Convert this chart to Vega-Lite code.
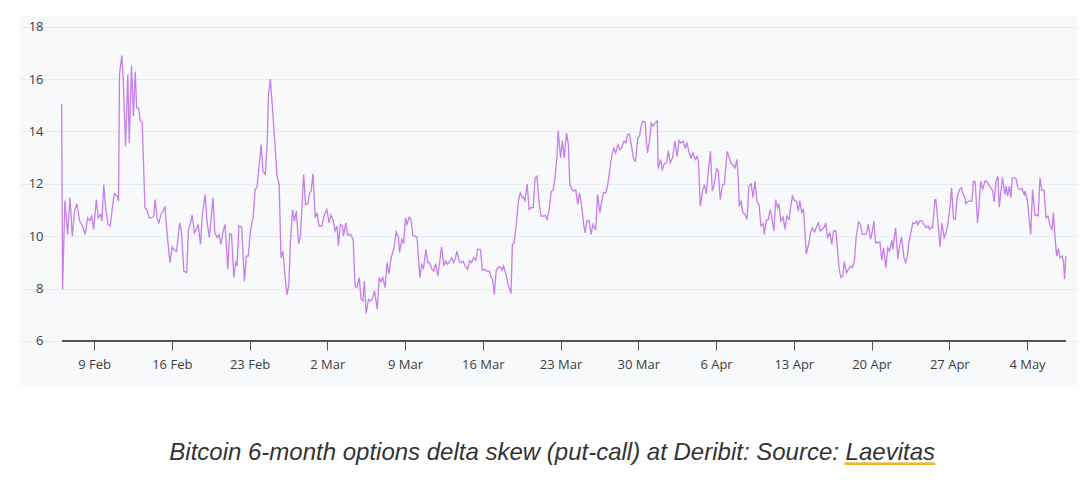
{
  "$schema": "https://vega.github.io/schema/vega-lite/v6.json",
  "autosize": {"type": "none"},
  "padding": {"left": 20, "top": 16, "right": 14, "bottom": 97},
  "width": 1057,
  "height": 370,
  "background": "#ffffff",
  "config": {
    "view": {"fill": "#f8f9fb", "stroke": null},
    "axis": {"labelFont": "Open Sans", "labelFontSize": 13, "labelColor": "#3d3d3d"}
  },
  "title": {
    "text": "Bitcoin 6-month options delta skew (put-call) at Deribit: Source: Laevitas",
    "subtitle": "━━━━━━━━━━",
    "orient": "bottom",
    "anchor": "end",
    "frame": "group",
    "dx": -142,
    "offset": 55,
    "font": "Liberation Sans",
    "fontStyle": "italic",
    "fontWeight": "normal",
    "fontSize": 24,
    "color": "#333333",
    "subtitleFont": "DejaVu Sans Mono",
    "subtitleFontSize": 15,
    "subtitleColor": "#f0b429",
    "subtitlePadding": -8
  },
  "data": {
    "values": [
      {"t": "2025-02-06T02:00Z", "v": 15.05}, {"t": "2025-02-06T04:00Z", "v": 7.97}, {"t": "2025-02-06T09:00Z", "v": 11.36},
      {"t": "2025-02-06T15:00Z", "v": 10.07}, {"t": "2025-02-06T20:00Z", "v": 11.49}, {"t": "2025-02-07T01:00Z", "v": 10.0},
      {"t": "2025-02-07T06:00Z", "v": 10.96}, {"t": "2025-02-07T11:00Z", "v": 11.24}, {"t": "2025-02-07T17:00Z", "v": 10.58},
      {"t": "2025-02-07T23:00Z", "v": 10.39}, {"t": "2025-02-08T05:00Z", "v": 10.07}, {"t": "2025-02-08T10:00Z", "v": 10.7},
      {"t": "2025-02-08T15:00Z", "v": 10.6}, {"t": "2025-02-08T19:00Z", "v": 10.77}, {"t": "2025-02-08T23:00Z", "v": 10.26},
      {"t": "2025-02-09T05:00Z", "v": 11.4}, {"t": "2025-02-09T09:00Z", "v": 10.7}, {"t": "2025-02-09T14:00Z", "v": 10.83},
      {"t": "2025-02-09T17:00Z", "v": 10.58}, {"t": "2025-02-09T21:00Z", "v": 11.97}, {"t": "2025-02-10T01:00Z", "v": 11.09},
      {"t": "2025-02-10T06:00Z", "v": 10.45}, {"t": "2025-02-10T11:00Z", "v": 10.39}, {"t": "2025-02-10T16:00Z", "v": 11.15},
      {"t": "2025-02-10T20:00Z", "v": 11.63}, {"t": "2025-02-11T02:00Z", "v": 11.53}, {"t": "2025-02-11T05:00Z", "v": 11.34},
      {"t": "2025-02-11T07:00Z", "v": 16.17}, {"t": "2025-02-11T12:00Z", "v": 16.9}, {"t": "2025-02-11T15:00Z", "v": 16.04},
      {"t": "2025-02-11T20:00Z", "v": 13.43}, {"t": "2025-02-12T01:00Z", "v": 16.17}, {"t": "2025-02-12T04:00Z", "v": 13.56},
      {"t": "2025-02-12T09:00Z", "v": 16.52}, {"t": "2025-02-12T13:00Z", "v": 14.58}, {"t": "2025-02-12T17:00Z", "v": 16.29},
      {"t": "2025-02-12T20:00Z", "v": 14.9}, {"t": "2025-02-13T00:00Z", "v": 14.9}, {"t": "2025-02-13T04:00Z", "v": 14.41},
      {"t": "2025-02-13T08:00Z", "v": 14.36}, {"t": "2025-02-13T14:00Z", "v": 11.09}, {"t": "2025-02-13T19:00Z", "v": 10.98},
      {"t": "2025-02-13T23:00Z", "v": 10.7}, {"t": "2025-02-14T05:00Z", "v": 10.7}, {"t": "2025-02-14T09:00Z", "v": 10.77},
      {"t": "2025-02-14T12:00Z", "v": 11.4}, {"t": "2025-02-14T16:00Z", "v": 10.7}, {"t": "2025-02-14T20:00Z", "v": 10.51},
      {"t": "2025-02-15T01:00Z", "v": 10.86}, {"t": "2025-02-15T05:00Z", "v": 10.96}, {"t": "2025-02-15T09:00Z", "v": 11.11},
      {"t": "2025-02-15T14:00Z", "v": 10.07}, {"t": "2025-02-15T20:00Z", "v": 8.99}, {"t": "2025-02-16T01:00Z", "v": 9.59},
      {"t": "2025-02-16T06:00Z", "v": 9.46}, {"t": "2025-02-16T10:00Z", "v": 9.41}, {"t": "2025-02-16T13:00Z", "v": 9.82},
      {"t": "2025-02-16T17:00Z", "v": 10.51}, {"t": "2025-02-16T21:00Z", "v": 10.2}, {"t": "2025-02-17T02:00Z", "v": 8.67},
      {"t": "2025-02-17T08:00Z", "v": 8.61}, {"t": "2025-02-17T12:00Z", "v": 10.26}, {"t": "2025-02-17T16:00Z", "v": 10.45},
      {"t": "2025-02-17T20:00Z", "v": 10.81}, {"t": "2025-02-18T01:00Z", "v": 10.13}, {"t": "2025-02-18T05:00Z", "v": 10.26},
      {"t": "2025-02-18T09:00Z", "v": 10.45}, {"t": "2025-02-18T14:00Z", "v": 9.69}, {"t": "2025-02-18T18:00Z", "v": 10.83},
      {"t": "2025-02-19T00:00Z", "v": 11.59}, {"t": "2025-02-19T04:00Z", "v": 10.58}, {"t": "2025-02-19T09:00Z", "v": 9.95},
      {"t": "2025-02-19T13:00Z", "v": 10.7}, {"t": "2025-02-19T17:00Z", "v": 11.47}, {"t": "2025-02-19T21:00Z", "v": 10.13},
      {"t": "2025-02-20T02:00Z", "v": 9.95}, {"t": "2025-02-20T06:00Z", "v": 10.07}, {"t": "2025-02-20T10:00Z", "v": 9.69},
      {"t": "2025-02-20T15:00Z", "v": 10.2}, {"t": "2025-02-20T19:00Z", "v": 10.45}, {"t": "2025-02-21T01:00Z", "v": 8.74},
      {"t": "2025-02-21T05:00Z", "v": 10.1}, {"t": "2025-02-21T09:00Z", "v": 10.07}, {"t": "2025-02-21T14:00Z", "v": 8.42},
      {"t": "2025-02-21T18:00Z", "v": 8.99}, {"t": "2025-02-21T21:00Z", "v": 8.86}, {"t": "2025-02-22T01:00Z", "v": 10.39},
      {"t": "2025-02-22T07:00Z", "v": 10.35}, {"t": "2025-02-22T13:00Z", "v": 8.27}, {"t": "2025-02-22T17:00Z", "v": 9.24},
      {"t": "2025-02-22T21:00Z", "v": 9.24}, {"t": "2025-02-23T02:00Z", "v": 10.2}, {"t": "2025-02-23T08:00Z", "v": 10.77},
      {"t": "2025-02-23T12:00Z", "v": 11.78}, {"t": "2025-02-23T16:00Z", "v": 11.85}, {"t": "2025-02-23T21:00Z", "v": 12.74},
      {"t": "2025-02-24T01:00Z", "v": 13.5}, {"t": "2025-02-24T05:00Z", "v": 12.48}, {"t": "2025-02-24T10:00Z", "v": 12.36},
      {"t": "2025-02-24T14:00Z", "v": 13.5}, {"t": "2025-02-24T17:00Z", "v": 15.4}, {"t": "2025-02-24T21:00Z", "v": 16.0},
      {"t": "2025-02-25T01:00Z", "v": 15.02}, {"t": "2025-02-25T07:00Z", "v": 13.5}, {"t": "2025-02-25T11:00Z", "v": 12.36},
      {"t": "2025-02-25T16:00Z", "v": 11.97}, {"t": "2025-02-25T20:00Z", "v": 9.18}, {"t": "2025-02-26T00:00Z", "v": 9.43},
      {"t": "2025-02-26T05:00Z", "v": 8.42}, {"t": "2025-02-26T09:00Z", "v": 7.76}, {"t": "2025-02-26T13:00Z", "v": 8.17},
      {"t": "2025-02-26T16:00Z", "v": 9.69}, {"t": "2025-02-26T21:00Z", "v": 11.02}, {"t": "2025-02-27T01:00Z", "v": 10.58},
      {"t": "2025-02-27T05:00Z", "v": 10.96}, {"t": "2025-02-27T10:00Z", "v": 9.71}, {"t": "2025-02-27T14:00Z", "v": 10.01},
      {"t": "2025-02-27T21:00Z", "v": 12.36}, {"t": "2025-02-28T01:00Z", "v": 11.21}, {"t": "2025-02-28T06:00Z", "v": 11.24},
      {"t": "2025-02-28T10:00Z", "v": 11.66}, {"t": "2025-02-28T13:00Z", "v": 11.72}, {"t": "2025-02-28T17:00Z", "v": 12.38},
      {"t": "2025-02-28T22:00Z", "v": 10.7}, {"t": "2025-03-01T02:00Z", "v": 10.9}, {"t": "2025-03-01T06:00Z", "v": 10.39},
      {"t": "2025-03-01T12:00Z", "v": 10.39}, {"t": "2025-03-01T18:00Z", "v": 10.83}, {"t": "2025-03-01T23:00Z", "v": 11.02},
      {"t": "2025-03-02T04:00Z", "v": 10.51}, {"t": "2025-03-02T08:00Z", "v": 10.81}, {"t": "2025-03-02T12:00Z", "v": 10.64},
      {"t": "2025-03-02T17:00Z", "v": 10.2}, {"t": "2025-03-02T21:00Z", "v": 10.39}, {"t": "2025-03-03T00:00Z", "v": 9.63},
      {"t": "2025-03-03T04:00Z", "v": 10.45}, {"t": "2025-03-03T09:00Z", "v": 10.39}, {"t": "2025-03-03T11:00Z", "v": 10.01},
      {"t": "2025-03-03T16:00Z", "v": 10.51}, {"t": "2025-03-03T20:00Z", "v": 10.04}, {"t": "2025-03-04T02:00Z", "v": 10.07},
      {"t": "2025-03-04T08:00Z", "v": 9.88}, {"t": "2025-03-04T12:00Z", "v": 8.1}, {"t": "2025-03-04T16:00Z", "v": 8.04},
      {"t": "2025-03-04T21:00Z", "v": 8.42}, {"t": "2025-03-05T01:00Z", "v": 7.59}, {"t": "2025-03-05T05:00Z", "v": 7.52},
      {"t": "2025-03-05T08:00Z", "v": 8.29}, {"t": "2025-03-05T12:00Z", "v": 7.05}, {"t": "2025-03-05T17:00Z", "v": 7.59},
      {"t": "2025-03-05T21:00Z", "v": 7.52}, {"t": "2025-03-06T01:00Z", "v": 7.59}, {"t": "2025-03-06T06:00Z", "v": 7.91},
      {"t": "2025-03-06T12:00Z", "v": 7.21}, {"t": "2025-03-06T16:00Z", "v": 8.42}, {"t": "2025-03-06T20:00Z", "v": 8.27},
      {"t": "2025-03-07T00:00Z", "v": 8.42}, {"t": "2025-03-07T05:00Z", "v": 8.04}, {"t": "2025-03-07T09:00Z", "v": 8.99},
      {"t": "2025-03-07T13:00Z", "v": 8.55}, {"t": "2025-03-07T18:00Z", "v": 9.18}, {"t": "2025-03-08T00:00Z", "v": 9.56},
      {"t": "2025-03-08T05:00Z", "v": 10.17}, {"t": "2025-03-08T10:00Z", "v": 9.95}, {"t": "2025-03-08T12:00Z", "v": 9.37},
      {"t": "2025-03-08T17:00Z", "v": 9.88}, {"t": "2025-03-08T21:00Z", "v": 9.71}, {"t": "2025-03-09T01:00Z", "v": 10.7},
      {"t": "2025-03-09T04:00Z", "v": 10.45}, {"t": "2025-03-09T09:00Z", "v": 10.73}, {"t": "2025-03-09T13:00Z", "v": 10.64},
      {"t": "2025-03-09T17:00Z", "v": 10.01}, {"t": "2025-03-09T22:00Z", "v": 10.01}, {"t": "2025-03-10T02:00Z", "v": 9.95},
      {"t": "2025-03-10T08:00Z", "v": 8.42}, {"t": "2025-03-10T12:00Z", "v": 8.93}, {"t": "2025-03-10T16:00Z", "v": 8.77},
      {"t": "2025-03-10T21:00Z", "v": 9.5}, {"t": "2025-03-11T01:00Z", "v": 8.99}, {"t": "2025-03-11T05:00Z", "v": 8.99},
      {"t": "2025-03-11T10:00Z", "v": 8.74}, {"t": "2025-03-11T14:00Z", "v": 8.67}, {"t": "2025-03-11T18:00Z", "v": 8.95},
      {"t": "2025-03-11T23:00Z", "v": 8.48}, {"t": "2025-03-12T03:00Z", "v": 9.05}, {"t": "2025-03-12T07:00Z", "v": 9.59},
      {"t": "2025-03-12T12:00Z", "v": 8.86}, {"t": "2025-03-12T16:00Z", "v": 9.05}, {"t": "2025-03-12T20:00Z", "v": 8.93},
      {"t": "2025-03-13T01:00Z", "v": 9.05}, {"t": "2025-03-13T05:00Z", "v": 9.18}, {"t": "2025-03-13T09:00Z", "v": 8.99},
      {"t": "2025-03-13T13:00Z", "v": 9.18}, {"t": "2025-03-13T16:00Z", "v": 9.43}, {"t": "2025-03-13T21:00Z", "v": 9.05},
      {"t": "2025-03-14T01:00Z", "v": 8.99}, {"t": "2025-03-14T05:00Z", "v": 9.05}, {"t": "2025-03-14T10:00Z", "v": 8.86},
      {"t": "2025-03-14T15:00Z", "v": 8.74}, {"t": "2025-03-14T20:00Z", "v": 9.08}, {"t": "2025-03-15T00:00Z", "v": 8.99},
      {"t": "2025-03-15T04:00Z", "v": 9.18}, {"t": "2025-03-15T09:00Z", "v": 9.08}, {"t": "2025-03-15T13:00Z", "v": 9.5},
      {"t": "2025-03-15T19:00Z", "v": 9.5}, {"t": "2025-03-15T23:00Z", "v": 8.7}, {"t": "2025-03-16T03:00Z", "v": 8.74},
      {"t": "2025-03-16T09:00Z", "v": 8.67}, {"t": "2025-03-16T14:00Z", "v": 8.67}, {"t": "2025-03-16T18:00Z", "v": 8.42},
      {"t": "2025-03-16T21:00Z", "v": 8.36}, {"t": "2025-03-17T01:00Z", "v": 7.78}, {"t": "2025-03-17T05:00Z", "v": 8.7},
      {"t": "2025-03-17T10:00Z", "v": 8.83}, {"t": "2025-03-17T14:00Z", "v": 8.83}, {"t": "2025-03-17T18:00Z", "v": 8.7},
      {"t": "2025-03-17T21:00Z", "v": 8.86}, {"t": "2025-03-18T02:00Z", "v": 8.55}, {"t": "2025-03-18T07:00Z", "v": 8.14},
      {"t": "2025-03-18T13:00Z", "v": 7.81}, {"t": "2025-03-18T16:00Z", "v": 9.69}, {"t": "2025-03-18T20:00Z", "v": 9.75},
      {"t": "2025-03-19T01:00Z", "v": 10.58}, {"t": "2025-03-19T05:00Z", "v": 11.34}, {"t": "2025-03-19T09:00Z", "v": 11.66},
      {"t": "2025-03-19T14:00Z", "v": 11.47}, {"t": "2025-03-19T16:00Z", "v": 11.49}, {"t": "2025-03-19T19:00Z", "v": 11.36},
      {"t": "2025-03-20T00:00Z", "v": 12.0}, {"t": "2025-03-20T04:00Z", "v": 11.02}, {"t": "2025-03-20T08:00Z", "v": 11.09},
      {"t": "2025-03-20T13:00Z", "v": 11.09}, {"t": "2025-03-20T17:00Z", "v": 12.23}, {"t": "2025-03-20T21:00Z", "v": 12.29},
      {"t": "2025-03-21T02:00Z", "v": 11.21}, {"t": "2025-03-21T06:00Z", "v": 10.77}, {"t": "2025-03-21T10:00Z", "v": 10.77},
      {"t": "2025-03-21T15:00Z", "v": 10.79}, {"t": "2025-03-21T19:00Z", "v": 10.64}, {"t": "2025-03-21T23:00Z", "v": 10.96},
      {"t": "2025-03-22T04:00Z", "v": 11.72}, {"t": "2025-03-22T08:00Z", "v": 11.75}, {"t": "2025-03-22T12:00Z", "v": 12.23},
      {"t": "2025-03-22T16:00Z", "v": 12.99}, {"t": "2025-03-22T19:00Z", "v": 14.03}, {"t": "2025-03-23T00:00Z", "v": 12.99},
      {"t": "2025-03-23T04:00Z", "v": 13.65}, {"t": "2025-03-23T08:00Z", "v": 12.99}, {"t": "2025-03-23T13:00Z", "v": 13.94},
      {"t": "2025-03-23T17:00Z", "v": 13.5}, {"t": "2025-03-23T20:00Z", "v": 11.97}, {"t": "2025-03-24T00:00Z", "v": 11.82},
      {"t": "2025-03-24T04:00Z", "v": 11.72}, {"t": "2025-03-24T09:00Z", "v": 11.78}, {"t": "2025-03-24T13:00Z", "v": 11.21},
      {"t": "2025-03-24T17:00Z", "v": 11.66}, {"t": "2025-03-24T22:00Z", "v": 11.09}, {"t": "2025-03-25T02:00Z", "v": 10.45},
      {"t": "2025-03-25T05:00Z", "v": 10.13}, {"t": "2025-03-25T09:00Z", "v": 10.58}, {"t": "2025-03-25T14:00Z", "v": 10.6},
      {"t": "2025-03-25T18:00Z", "v": 10.07}, {"t": "2025-03-25T22:00Z", "v": 10.45}, {"t": "2025-03-26T01:00Z", "v": 10.32},
      {"t": "2025-03-26T04:00Z", "v": 10.26}, {"t": "2025-03-26T08:00Z", "v": 11.59}, {"t": "2025-03-26T13:00Z", "v": 10.9},
      {"t": "2025-03-26T17:00Z", "v": 11.34}, {"t": "2025-03-26T21:00Z", "v": 11.66}, {"t": "2025-03-27T02:00Z", "v": 11.66},
      {"t": "2025-03-27T06:00Z", "v": 11.97}, {"t": "2025-03-27T10:00Z", "v": 12.48}, {"t": "2025-03-27T15:00Z", "v": 13.12},
      {"t": "2025-03-27T19:00Z", "v": 13.37}, {"t": "2025-03-27T23:00Z", "v": 13.18}, {"t": "2025-03-28T04:00Z", "v": 13.5},
      {"t": "2025-03-28T08:00Z", "v": 13.31}, {"t": "2025-03-28T12:00Z", "v": 13.37}, {"t": "2025-03-28T17:00Z", "v": 13.63},
      {"t": "2025-03-28T21:00Z", "v": 13.56}, {"t": "2025-03-29T01:00Z", "v": 13.88}, {"t": "2025-03-29T05:00Z", "v": 13.9},
      {"t": "2025-03-29T10:00Z", "v": 13.37}, {"t": "2025-03-29T14:00Z", "v": 12.93}, {"t": "2025-03-29T18:00Z", "v": 12.86},
      {"t": "2025-03-29T23:00Z", "v": 13.75}, {"t": "2025-03-30T03:00Z", "v": 13.85}, {"t": "2025-03-30T06:00Z", "v": 14.2},
      {"t": "2025-03-30T10:00Z", "v": 14.39}, {"t": "2025-03-30T15:00Z", "v": 14.36}, {"t": "2025-03-30T17:00Z", "v": 13.75},
      {"t": "2025-03-30T20:00Z", "v": 13.18}, {"t": "2025-03-31T01:00Z", "v": 13.75}, {"t": "2025-03-31T04:00Z", "v": 14.32},
      {"t": "2025-03-31T08:00Z", "v": 14.2}, {"t": "2025-03-31T12:00Z", "v": 14.32}, {"t": "2025-03-31T17:00Z", "v": 14.41},
      {"t": "2025-03-31T19:00Z", "v": 12.58}, {"t": "2025-04-01T00:00Z", "v": 12.93}, {"t": "2025-04-01T04:00Z", "v": 12.55},
      {"t": "2025-04-01T08:00Z", "v": 12.76}, {"t": "2025-04-01T13:00Z", "v": 12.8}, {"t": "2025-04-01T17:00Z", "v": 13.27},
      {"t": "2025-04-01T21:00Z", "v": 12.8}, {"t": "2025-04-02T02:00Z", "v": 12.99}, {"t": "2025-04-02T07:00Z", "v": 13.63},
      {"t": "2025-04-02T12:00Z", "v": 13.05}, {"t": "2025-04-02T16:00Z", "v": 13.65}, {"t": "2025-04-02T20:00Z", "v": 13.56},
      {"t": "2025-04-03T01:00Z", "v": 13.63}, {"t": "2025-04-03T05:00Z", "v": 13.37}, {"t": "2025-04-03T09:00Z", "v": 13.56},
      {"t": "2025-04-03T14:00Z", "v": 13.18}, {"t": "2025-04-03T18:00Z", "v": 12.99}, {"t": "2025-04-03T22:00Z", "v": 13.18},
      {"t": "2025-04-04T03:00Z", "v": 12.93}, {"t": "2025-04-04T07:00Z", "v": 13.05}, {"t": "2025-04-04T10:00Z", "v": 12.86},
      {"t": "2025-04-04T14:00Z", "v": 11.15}, {"t": "2025-04-04T19:00Z", "v": 11.72}, {"t": "2025-04-04T23:00Z", "v": 11.97},
      {"t": "2025-04-05T03:00Z", "v": 11.62}, {"t": "2025-04-05T07:00Z", "v": 12.42}, {"t": "2025-04-05T12:00Z", "v": 13.24},
      {"t": "2025-04-05T16:00Z", "v": 11.72}, {"t": "2025-04-05T20:00Z", "v": 11.97}, {"t": "2025-04-06T01:00Z", "v": 12.58},
      {"t": "2025-04-06T05:00Z", "v": 12.48}, {"t": "2025-04-06T09:00Z", "v": 11.4}, {"t": "2025-04-06T14:00Z", "v": 11.97},
      {"t": "2025-04-06T18:00Z", "v": 11.97}, {"t": "2025-04-07T00:00Z", "v": 13.24}, {"t": "2025-04-07T04:00Z", "v": 13.05},
      {"t": "2025-04-07T08:00Z", "v": 12.8}, {"t": "2025-04-07T13:00Z", "v": 12.71}, {"t": "2025-04-07T17:00Z", "v": 12.61},
      {"t": "2025-04-07T21:00Z", "v": 12.93}, {"t": "2025-04-08T00:00Z", "v": 12.23}, {"t": "2025-04-08T02:00Z", "v": 11.15},
      {"t": "2025-04-08T06:00Z", "v": 11.34}, {"t": "2025-04-08T10:00Z", "v": 10.9}, {"t": "2025-04-08T15:00Z", "v": 10.83},
      {"t": "2025-04-08T19:00Z", "v": 10.64}, {"t": "2025-04-08T23:00Z", "v": 11.91}, {"t": "2025-04-09T04:00Z", "v": 12.0},
      {"t": "2025-04-09T08:00Z", "v": 11.47}, {"t": "2025-04-09T12:00Z", "v": 12.1}, {"t": "2025-04-09T17:00Z", "v": 11.27},
      {"t": "2025-04-09T21:00Z", "v": 11.21}, {"t": "2025-04-10T01:00Z", "v": 10.39}, {"t": "2025-04-10T06:00Z", "v": 10.48},
      {"t": "2025-04-10T08:00Z", "v": 10.07}, {"t": "2025-04-10T13:00Z", "v": 10.6}, {"t": "2025-04-10T17:00Z", "v": 10.64},
      {"t": "2025-04-10T21:00Z", "v": 11.02}, {"t": "2025-04-11T00:00Z", "v": 10.77}, {"t": "2025-04-11T05:00Z", "v": 10.2},
      {"t": "2025-04-11T09:00Z", "v": 11.4}, {"t": "2025-04-11T13:00Z", "v": 11.09}, {"t": "2025-04-11T16:00Z", "v": 11.21},
      {"t": "2025-04-11T20:00Z", "v": 10.58}, {"t": "2025-04-12T01:00Z", "v": 10.73}, {"t": "2025-04-12T05:00Z", "v": 10.26},
      {"t": "2025-04-12T09:00Z", "v": 10.77}, {"t": "2025-04-12T14:00Z", "v": 10.64}, {"t": "2025-04-12T18:00Z", "v": 11.21},
      {"t": "2025-04-12T21:00Z", "v": 11.53}, {"t": "2025-04-13T01:00Z", "v": 11.36}, {"t": "2025-04-13T06:00Z", "v": 11.34},
      {"t": "2025-04-13T10:00Z", "v": 10.96}, {"t": "2025-04-13T13:00Z", "v": 11.36}, {"t": "2025-04-13T17:00Z", "v": 10.9},
      {"t": "2025-04-13T21:00Z", "v": 11.02}, {"t": "2025-04-14T00:00Z", "v": 10.2}, {"t": "2025-04-14T03:00Z", "v": 9.31},
      {"t": "2025-04-14T08:00Z", "v": 9.69}, {"t": "2025-04-14T12:00Z", "v": 10.1}, {"t": "2025-04-14T16:00Z", "v": 10.32},
      {"t": "2025-04-14T21:00Z", "v": 10.17}, {"t": "2025-04-15T01:00Z", "v": 10.35}, {"t": "2025-04-15T05:00Z", "v": 10.51},
      {"t": "2025-04-15T09:00Z", "v": 10.2}, {"t": "2025-04-15T14:00Z", "v": 10.26}, {"t": "2025-04-15T18:00Z", "v": 10.35},
      {"t": "2025-04-15T21:00Z", "v": 10.51}, {"t": "2025-04-16T01:00Z", "v": 9.95}, {"t": "2025-04-16T06:00Z", "v": 10.13},
      {"t": "2025-04-16T10:00Z", "v": 9.69}, {"t": "2025-04-16T14:00Z", "v": 10.2}, {"t": "2025-04-16T19:00Z", "v": 10.2},
      {"t": "2025-04-16T21:00Z", "v": 9.82}, {"t": "2025-04-17T02:00Z", "v": 8.74}, {"t": "2025-04-17T06:00Z", "v": 8.42},
      {"t": "2025-04-17T10:00Z", "v": 8.48}, {"t": "2025-04-17T13:00Z", "v": 9.03}, {"t": "2025-04-17T18:00Z", "v": 8.61},
      {"t": "2025-04-17T22:00Z", "v": 8.74}, {"t": "2025-04-18T02:00Z", "v": 8.86}, {"t": "2025-04-18T07:00Z", "v": 8.8},
      {"t": "2025-04-18T11:00Z", "v": 9.05}, {"t": "2025-04-18T15:00Z", "v": 10.01}, {"t": "2025-04-18T20:00Z", "v": 10.55},
      {"t": "2025-04-19T00:00Z", "v": 10.45}, {"t": "2025-04-19T04:00Z", "v": 10.07}, {"t": "2025-04-19T09:00Z", "v": 10.07},
      {"t": "2025-04-19T13:00Z", "v": 10.1}, {"t": "2025-04-19T17:00Z", "v": 10.45}, {"t": "2025-04-19T22:00Z", "v": 9.88},
      {"t": "2025-04-20T02:00Z", "v": 10.2}, {"t": "2025-04-20T05:00Z", "v": 10.58}, {"t": "2025-04-20T09:00Z", "v": 9.75},
      {"t": "2025-04-20T13:00Z", "v": 9.75}, {"t": "2025-04-20T18:00Z", "v": 9.79}, {"t": "2025-04-20T22:00Z", "v": 9.08},
      {"t": "2025-04-21T02:00Z", "v": 9.56}, {"t": "2025-04-21T07:00Z", "v": 8.8}, {"t": "2025-04-21T11:00Z", "v": 9.56},
      {"t": "2025-04-21T15:00Z", "v": 9.43}, {"t": "2025-04-21T20:00Z", "v": 9.84}, {"t": "2025-04-21T22:00Z", "v": 9.5},
      {"t": "2025-04-22T04:00Z", "v": 10.32}, {"t": "2025-04-22T09:00Z", "v": 9.12}, {"t": "2025-04-22T13:00Z", "v": 9.69},
      {"t": "2025-04-22T17:00Z", "v": 9.97}, {"t": "2025-04-22T22:00Z", "v": 9.18}, {"t": "2025-04-23T02:00Z", "v": 8.99},
      {"t": "2025-04-23T06:00Z", "v": 9.31}, {"t": "2025-04-23T08:00Z", "v": 9.69}, {"t": "2025-04-23T13:00Z", "v": 10.13},
      {"t": "2025-04-23T17:00Z", "v": 10.51}, {"t": "2025-04-23T21:00Z", "v": 10.48}, {"t": "2025-04-24T02:00Z", "v": 10.58},
      {"t": "2025-04-24T04:00Z", "v": 10.43}, {"t": "2025-04-24T09:00Z", "v": 10.6}, {"t": "2025-04-24T13:00Z", "v": 10.58},
      {"t": "2025-04-24T17:00Z", "v": 10.45}, {"t": "2025-04-24T22:00Z", "v": 10.32}, {"t": "2025-04-25T02:00Z", "v": 10.39},
      {"t": "2025-04-25T05:00Z", "v": 10.26}, {"t": "2025-04-25T09:00Z", "v": 10.35}, {"t": "2025-04-25T12:00Z", "v": 10.32},
      {"t": "2025-04-25T17:00Z", "v": 11.4}, {"t": "2025-04-25T19:00Z", "v": 11.4}, {"t": "2025-04-26T00:00Z", "v": 10.45},
      {"t": "2025-04-26T04:00Z", "v": 9.59}, {"t": "2025-04-26T08:00Z", "v": 10.51}, {"t": "2025-04-26T13:00Z", "v": 9.94},
      {"t": "2025-04-26T17:00Z", "v": 10.13}, {"t": "2025-04-26T21:00Z", "v": 10.45}, {"t": "2025-04-27T02:00Z", "v": 11.21},
      {"t": "2025-04-27T05:00Z", "v": 11.85}, {"t": "2025-04-27T09:00Z", "v": 10.7}, {"t": "2025-04-27T13:00Z", "v": 10.64},
      {"t": "2025-04-27T17:00Z", "v": 11.47}, {"t": "2025-04-27T22:00Z", "v": 11.78}, {"t": "2025-04-28T02:00Z", "v": 11.85},
      {"t": "2025-04-28T06:00Z", "v": 11.59}, {"t": "2025-04-28T09:00Z", "v": 11.53}, {"t": "2025-04-28T12:00Z", "v": 11.24},
      {"t": "2025-04-28T17:00Z", "v": 11.34}, {"t": "2025-04-28T21:00Z", "v": 11.34}, {"t": "2025-04-29T01:00Z", "v": 11.34},
      {"t": "2025-04-29T04:00Z", "v": 12.1}, {"t": "2025-04-29T08:00Z", "v": 12.08}, {"t": "2025-04-29T13:00Z", "v": 10.51},
      {"t": "2025-04-29T16:00Z", "v": 11.09}, {"t": "2025-04-29T20:00Z", "v": 12.1}, {"t": "2025-04-30T00:00Z", "v": 11.78},
      {"t": "2025-04-30T05:00Z", "v": 12.1}, {"t": "2025-04-30T09:00Z", "v": 12.1}, {"t": "2025-04-30T13:00Z", "v": 11.97},
      {"t": "2025-04-30T18:00Z", "v": 11.85}, {"t": "2025-04-30T22:00Z", "v": 11.72}, {"t": "2025-05-01T01:00Z", "v": 11.31},
      {"t": "2025-05-01T05:00Z", "v": 12.1}, {"t": "2025-05-01T09:00Z", "v": 12.29}, {"t": "2025-05-01T12:00Z", "v": 11.11},
      {"t": "2025-05-01T17:00Z", "v": 11.91}, {"t": "2025-05-01T19:00Z", "v": 12.25}, {"t": "2025-05-02T00:00Z", "v": 11.59},
      {"t": "2025-05-02T03:00Z", "v": 11.91}, {"t": "2025-05-02T06:00Z", "v": 11.53}, {"t": "2025-05-02T10:00Z", "v": 11.91},
      {"t": "2025-05-02T13:00Z", "v": 11.47}, {"t": "2025-05-02T16:00Z", "v": 12.23}, {"t": "2025-05-02T20:00Z", "v": 12.23},
      {"t": "2025-05-03T00:00Z", "v": 12.2}, {"t": "2025-05-03T05:00Z", "v": 11.82}, {"t": "2025-05-03T09:00Z", "v": 11.78},
      {"t": "2025-05-03T13:00Z", "v": 11.82}, {"t": "2025-05-03T18:00Z", "v": 11.59}, {"t": "2025-05-03T20:00Z", "v": 11.72},
      {"t": "2025-05-04T01:00Z", "v": 11.34}, {"t": "2025-05-04T05:00Z", "v": 10.58}, {"t": "2025-05-04T08:00Z", "v": 10.07},
      {"t": "2025-05-04T12:00Z", "v": 11.78}, {"t": "2025-05-04T17:00Z", "v": 10.81}, {"t": "2025-05-04T21:00Z", "v": 10.81},
      {"t": "2025-05-05T00:00Z", "v": 10.77}, {"t": "2025-05-05T04:00Z", "v": 12.23}, {"t": "2025-05-05T08:00Z", "v": 11.75},
      {"t": "2025-05-05T13:00Z", "v": 11.75}, {"t": "2025-05-05T17:00Z", "v": 10.7}, {"t": "2025-05-05T21:00Z", "v": 10.77},
      {"t": "2025-05-06T02:00Z", "v": 10.39}, {"t": "2025-05-06T06:00Z", "v": 10.26}, {"t": "2025-05-06T09:00Z", "v": 10.9},
      {"t": "2025-05-06T12:00Z", "v": 10.07}, {"t": "2025-05-06T16:00Z", "v": 9.24}, {"t": "2025-05-06T20:00Z", "v": 9.53},
      {"t": "2025-05-06T23:00Z", "v": 9.18}, {"t": "2025-05-07T04:00Z", "v": 9.24}, {"t": "2025-05-07T07:00Z", "v": 8.99},
      {"t": "2025-05-07T09:00Z", "v": 8.36}, {"t": "2025-05-07T12:00Z", "v": 9.24}
    ]
  },
  "encoding": {
    "x": {
      "field": "t",
      "type": "temporal",
      "title": null,
      "scale": {
        "type": "utc",
        "domain": [
          {"year": 2025, "month": "feb", "date": 2, "hours": 8, "utc": true},
          {"year": 2025, "month": "may", "date": 8, "hours": 12, "utc": true}
        ]
      },
      "axis": {
        "values": [
          {"year": 2025, "month": "feb", "date": 9, "utc": true},
          {"year": 2025, "month": "feb", "date": 16, "utc": true},
          {"year": 2025, "month": "feb", "date": 23, "utc": true},
          {"year": 2025, "month": "mar", "date": 2, "utc": true},
          {"year": 2025, "month": "mar", "date": 9, "utc": true},
          {"year": 2025, "month": "mar", "date": 16, "utc": true},
          {"year": 2025, "month": "mar", "date": 23, "utc": true},
          {"year": 2025, "month": "mar", "date": 30, "utc": true},
          {"year": 2025, "month": "apr", "date": 6, "utc": true},
          {"year": 2025, "month": "apr", "date": 13, "utc": true},
          {"year": 2025, "month": "apr", "date": 20, "utc": true},
          {"year": 2025, "month": "apr", "date": 27, "utc": true},
          {"year": 2025, "month": "may", "date": 4, "utc": true}
        ],
        "format": "%-d %b",
        "offset": -45,
        "domain": false,
        "grid": false,
        "ticks": true,
        "tickSize": 9,
        "tickColor": "#555555",
        "labelPadding": 8,
        "labelFlush": false
      }
    },
    "y": {
      "type": "quantitative",
      "title": null,
      "scale": {"domain": [4.28, 18.41], "nice": false, "zero": false},
      "axis": {
        "values": [6, 8, 10, 12, 14, 16, 18],
        "offset": -27,
        "domain": false,
        "ticks": false,
        "tickSize": 0,
        "labelPadding": 4,
        "grid": true,
        "gridColor": "#e4ecf6",
        "gridWidth": 1
      }
    }
  },
  "layer": [
    {
      "mark": {"type": "line", "color": "#c67ee9", "strokeWidth": 1.3, "interpolate": "linear"},
      "encoding": {"y": {"field": "v", "type": "quantitative"}}
    },
    {
      "mark": {"type": "rule", "color": "#555555", "strokeWidth": 1.2},
      "encoding": {
        "x": {"datum": {"year": 2025, "month": "feb", "date": 6, "hours": 3, "utc": true}},
        "x2": {"datum": {"year": 2025, "month": "may", "date": 7, "hours": 12, "utc": true}},
        "y": {"datum": 6}
      }
    }
  ]
}
